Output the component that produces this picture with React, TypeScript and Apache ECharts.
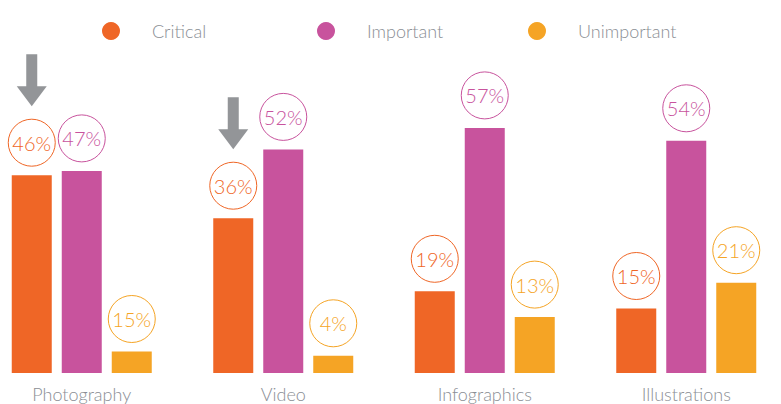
import React, { useEffect, useRef } from "react";
import * as echarts from "echarts";

const categories = ["Photography", "Video", "Infographics", "Illustrations"];
const seriesNames = ["Critical", "Important", "Unimportant"];
const criticalValues = [46, 36, 19, 15];
const importantValues = [47, 52, 57, 54];
// bar heights as drawn in the picture (photography "unimportant" bar is drawn short)
const unimportantValues = [5, 4, 13, 21];
const criticalLabels = ["46%", "36%", "19%", "15%"];
const importantLabels = ["47%", "52%", "57%", "54%"];
const unimportantLabels = ["15%", "4%", "13%", "21%"];
// categories marked with a gray arrow above the "Critical" bar
const arrowCategories = [0, 1];

const colors = ["#EF6626", "#C8539D", "#F5A425"];
const FONT = "Lato, 'Open Sans', sans-serif";
const TEXT_GRAY = "#8A8E94";

export default function App() {
  const ref = useRef<HTMLDivElement>(null);
  useEffect(() => {
    if (!ref.current) return;
    const chart = echarts.init(ref.current, null, { renderer: "svg" });
    const makeLabel = (labels: string[], color: string) => ({
      show: true,
      position: "top",
      distance: 9,
      formatter: (p: any) => labels[p.dataIndex],
      color,
      fontFamily: FONT,
      fontWeight: 300,
      fontSize: 20,
      width: 47,
      height: 47,
      lineHeight: 47,
      align: "center",
      borderColor: color,
      borderWidth: 1,
      borderRadius: 24,
    });
    const valueSets = [criticalValues, importantValues, unimportantValues];
    const labelSets = [criticalLabels, importantLabels, unimportantLabels];
    const legendLefts = [102, 317, 528];
    chart.setOption({
      animation: false,
      color: colors,
      legend: seriesNames.map((n, i) => ({
        data: [{ name: n, icon: "circle" }],
        left: legendLefts[i],
        top: 22,
        padding: 0,
        itemWidth: 18,
        itemHeight: 18,
        textStyle: {
          color: TEXT_GRAY,
          fontFamily: FONT,
          fontWeight: 300,
          fontSize: 18,
          padding: [0, 0, 0, 27],
        },
      })),
      grid: { left: -19, right: -6, top: 115, bottom: 31, outerBoundsMode: "none" },
      xAxis: {
        type: "category",
        data: categories,
        axisLine: { show: false },
        axisTick: { show: false },
        axisLabel: {
          color: TEXT_GRAY,
          fontFamily: FONT,
          fontWeight: 300,
          fontSize: 18,
          margin: 12,
        },
      },
      yAxis: {
        type: "value",
        min: 0,
        max: 60,
        show: false,
        splitLine: { show: false },
      },
      series: seriesNames.map((name, i) => ({
        name,
        type: "bar",
        barWidth: 40,
        barGap: "25%",
        data: valueSets[i],
        label: makeLabel(labelSets[i], colors[i]),
      })),
    });

    // gray arrows above the "Critical" bars, positioned from the data
    const arrows = arrowCategories.map((c) => {
      const [cx, topY] = chart.convertToPixel({ gridIndex: 0 }, [c, criticalValues[c]]) as number[];
      const x = cx - 50;
      const tip = topY - 69;
      const top = tip - 52;
      const headTop = tip - 20;
      return {
        type: "polygon",
        shape: {
          points: [
            [x - 5.5, top],
            [x + 5.5, top],
            [x + 5.5, headTop],
            [x + 15, headTop],
            [x, tip],
            [x - 15, headTop],
            [x - 5.5, headTop],
          ],
        },
        style: { fill: "#939598" },
      };
    });
    chart.setOption({ graphic: arrows });
    return () => chart.dispose();
  }, []);
  return (
    <div
      ref={ref}
      style={{ position: "absolute", left: 0, top: 0, width: 781, height: 404 }}
    />
  );
}
